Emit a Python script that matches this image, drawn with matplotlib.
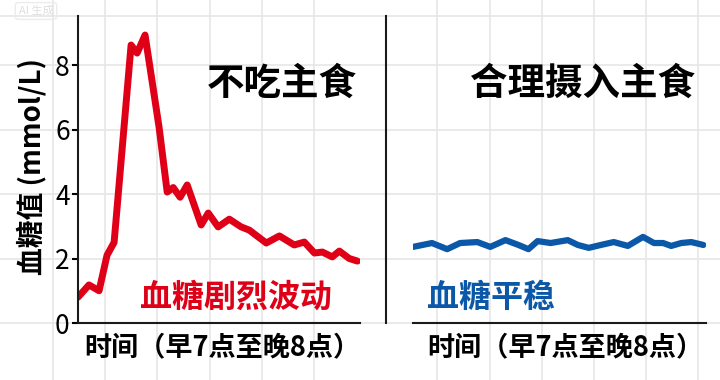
import matplotlib
matplotlib.use("Agg")
import matplotlib.pyplot as plt
from matplotlib.transforms import blended_transform_factory

plt.rcParams['font.family'] = ['Noto Sans CJK SC', 'DejaVu Sans']

# 不吃主食：时间（小时）与血糖值
hours_a = [7.0, 7.51, 7.98, 8.35, 8.68, 9.47, 9.75, 10.12, 10.77, 11.15,
           11.43, 11.75, 12.08, 12.73, 13.06, 13.52, 14.04, 14.59, 14.97, 15.76,
           16.37, 17.06, 17.53, 18.0, 18.37, 18.83, 19.16, 19.62, 20.0]
sugar_a = [0.8, 1.18, 1.0, 2.1, 2.5, 8.62, 8.37, 8.93, 6.08, 4.06,
           4.2, 3.9, 4.28, 3.04, 3.41, 2.98, 3.22, 2.98, 2.88, 2.48,
           2.7, 2.42, 2.51, 2.17, 2.2, 2.05, 2.23, 2.0, 1.92]

# 合理摄入主食
hours_b = [7.0, 7.85, 8.53, 9.11, 9.88, 10.46, 11.14, 11.72, 12.17, 12.58,
           13.16, 13.93, 14.38, 14.87, 15.41, 15.99, 16.62, 17.30, 17.79, 18.2,
           18.56, 19.01, 19.46, 20.0]
sugar_b = [2.36, 2.48, 2.29, 2.48, 2.51, 2.36, 2.57, 2.42, 2.29, 2.54,
           2.48, 2.57, 2.42, 2.33, 2.42, 2.51, 2.39, 2.67, 2.48, 2.48,
           2.39, 2.48, 2.51, 2.42]

y_ticks = [0, 2, 4, 6, 8]
titles = ['不吃主食', '合理摄入主食']
notes = ['血糖剧烈波动', '血糖平稳']
xlabel = '时间（早7点至晚8点）'
ylabel = '血糖值 (mmol/L)'

red = '#df0018'
blue = '#0b58a8'
grid_c = '#e6e6e6'

W, H = 720, 380
fig = plt.figure(figsize=(W / 100, H / 100), dpi=100)
fig.patch.set_facecolor('white')

# background paper grid (pixel coords)
bg = fig.add_axes([0, 0, 1, 1], zorder=-5)
bg.set_xlim(0, W)
bg.set_ylim(H, 0)
bg.axis('off')
for gx in [53, 105, 157, 210, 262, 314, 437, 490, 542, 594, 646, 698]:
    bg.axvline(gx, color=grid_c, lw=1.2)

ax1 = fig.add_axes([78 / W, 57 / H, 282 / W, 307 / H])
ax2 = fig.add_axes([413 / W, 57 / H, 293 / W, 307 / H])

for ax in (ax1, ax2):
    ax.set_facecolor('none')
    ax.set_xlim(7, 20.12)
    ax.set_ylim(0, 9.52)
    for s in ('top', 'right'):
        ax.spines[s].set_visible(False)
    for s in ('left', 'bottom'):
        ax.spines[s].set_color('#1a1a1a')
        ax.spines[s].set_linewidth(1.5)
    ax.set_xticks([])

# horizontal grid across the whole figure
tr = blended_transform_factory(fig.transFigure, ax1.transData)
for gy in y_ticks + [9.52]:
    fig.add_artist(plt.Line2D([0, 1], [gy, gy], transform=tr, color=grid_c,
                              lw=1.2, zorder=-4))

ax1.plot(hours_a, sugar_a, color=red, lw=5, solid_capstyle='round',
         solid_joinstyle='round')
ax2.plot(hours_b, sugar_b, color=blue, lw=4.5, solid_capstyle='round',
         solid_joinstyle='round')

ax1.set_yticks(y_ticks)
ax1.tick_params(axis='y', labelsize=19, length=4, width=1.5, pad=2)
ax1.set_ylabel(ylabel, fontsize=20, fontweight='bold', va='center')
ax1.yaxis.set_label_coords(-0.165, 0.51)

ax2.set_yticks([])
ax2.spines['left'].set_position(('outward', 19.5))

for ax, t, n, c, nx, lx in [(ax1, titles[0], notes[0], red, 0.22, 0.51),
                            (ax2, titles[1], notes[1], blue, 0.048, 0.52)]:
    ax.text(0.99 if ax is ax1 else 0.962, 0.78, t, transform=ax.transAxes,
            ha='right', va='center', fontsize=27, fontweight='bold')
    ax.text(nx, 0.083, n, transform=ax.transAxes, ha='left', va='center',
            fontsize=23, fontweight='bold', color=c)
    ax.set_xlabel(xlabel, fontsize=19.5, fontweight='bold', va='center')
    ax.xaxis.set_label_coords(lx, -0.078)

# watermark
fig.text(36 / W, 1 - 11 / H, 'AI 生成', fontsize=8, color='#dedede',
         ha='center', va='center',
         bbox=dict(boxstyle='round,pad=0.3', fc='none', ec='#ececec'))

fig.savefig('out.png', dpi=100)
